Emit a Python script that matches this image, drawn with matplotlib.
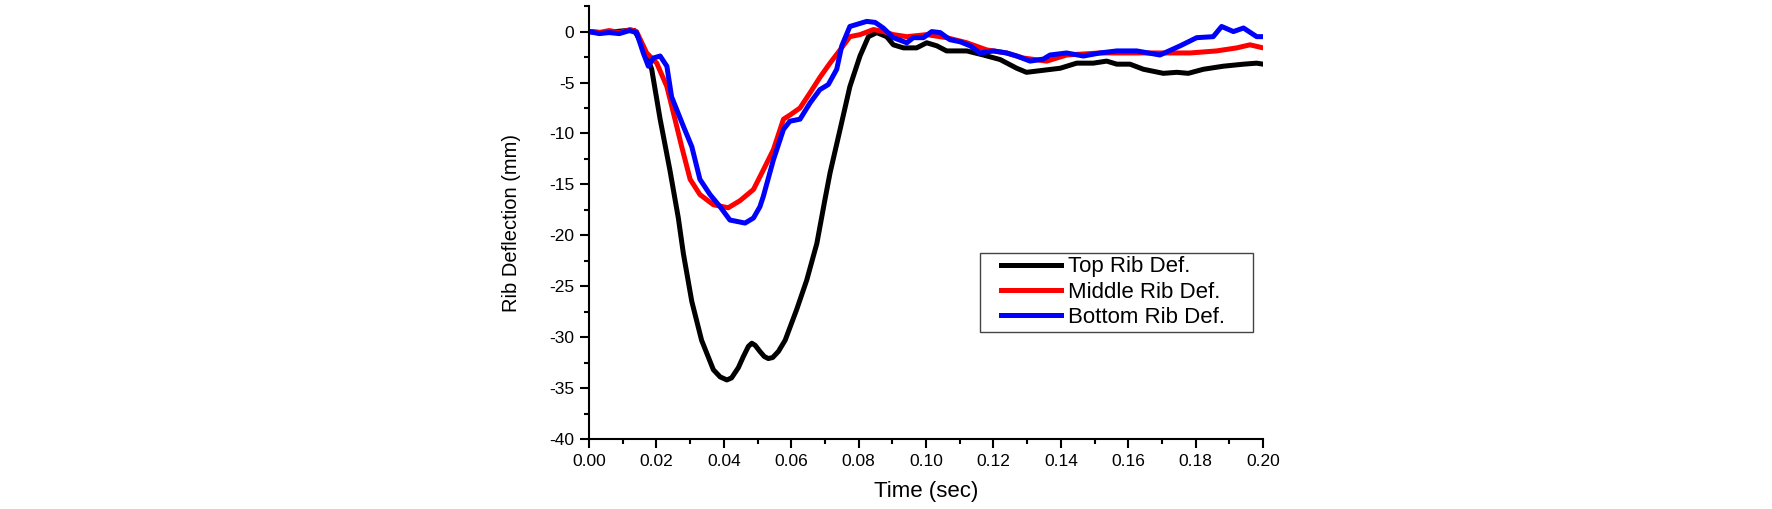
import matplotlib
matplotlib.use("Agg")
import matplotlib.pyplot as plt
from matplotlib.lines import Line2D
from matplotlib.legend_handler import HandlerLine2D
from matplotlib.ticker import MultipleLocator, FormatStrFormatter

# values (time in sec, deflection in mm)
top_t = [0.0, 0.004, 0.008, 0.011, 0.0135, 0.0161, 0.0186, 0.0211, 0.024,
         0.0265, 0.028, 0.0305, 0.0334, 0.0369, 0.0389, 0.0409, 0.0423,
         0.0443, 0.0458, 0.0473, 0.0483, 0.0493, 0.0507, 0.052, 0.0532,
         0.0545, 0.0562, 0.0582, 0.0616, 0.0646, 0.0676, 0.070, 0.0715,
         0.0745, 0.0774, 0.0804, 0.0829, 0.0854, 0.0883, 0.0903, 0.0933,
         0.0972, 0.1002, 0.1032, 0.1061, 0.1121, 0.117, 0.122, 0.1269,
         0.1298, 0.1348, 0.1398, 0.1447, 0.1496, 0.1536, 0.1566, 0.1605,
         0.1645, 0.1704, 0.1744, 0.1778, 0.1823, 0.1882, 0.1942, 0.1981,
         0.200]
top_v = [0.0, -0.1, 0.0, 0.1, 0.1, -1.5, -3.7, -8.6, -13.6,
         -18.3, -21.8, -26.5, -30.3, -33.2, -33.9, -34.2, -34.0,
         -33.0, -31.9, -30.9, -30.6, -30.8, -31.4, -31.9, -32.1,
         -32.0, -31.4, -30.3, -27.3, -24.4, -20.8, -16.5, -13.9,
         -9.6, -5.4, -2.4, -0.5, -0.1, -0.5, -1.3, -1.6,
         -1.6, -1.1, -1.4, -1.9, -1.9, -2.3, -2.75, -3.6,
         -4.0, -3.8, -3.6, -3.1, -3.1, -2.9, -3.2, -3.2,
         -3.7, -4.1, -4.0, -4.1, -3.7, -3.4, -3.2, -3.1,
         -3.2]

mid_t = [0.0, 0.003, 0.006, 0.009, 0.0122, 0.0141, 0.0171, 0.0201, 0.0231,
         0.0255, 0.0275, 0.030, 0.0329, 0.0369, 0.0413, 0.0448, 0.0488,
         0.0517, 0.0547, 0.0577, 0.0596, 0.0626, 0.0656, 0.0685, 0.0715,
         0.0745, 0.0774, 0.0804, 0.0844, 0.0873, 0.0903, 0.0943, 0.1002,
         0.1061, 0.1121, 0.118, 0.1239, 0.1289, 0.1358, 0.1417, 0.1516,
         0.1615, 0.1714, 0.1783, 0.1862, 0.1922, 0.1961, 0.200]
mid_v = [0.0, -0.1, 0.1, -0.1, 0.2, 0.0, -2.1, -3.1, -5.4,
         -8.6, -11.3, -14.5, -16.0, -17.0, -17.3, -16.6, -15.5,
         -13.6, -11.6, -8.6, -8.2, -7.5, -6.0, -4.5, -3.1,
         -1.8, -0.5, -0.3, 0.2, 0.0, -0.3, -0.5, -0.3,
         -0.6, -1.1, -1.8, -2.1, -2.6, -2.9, -2.3, -2.1,
         -2.1, -2.1, -2.1, -1.9, -1.6, -1.3, -1.6]

bot_t = [0.0, 0.003, 0.006, 0.009, 0.012, 0.0141, 0.0161, 0.0176, 0.0191,
         0.0211, 0.0231, 0.0245, 0.028, 0.0305, 0.0329, 0.0359, 0.0389,
         0.0418, 0.0463, 0.0488, 0.0507, 0.0517, 0.0547, 0.0577, 0.0596,
         0.0626, 0.0656, 0.0685, 0.071, 0.0735, 0.075, 0.0774, 0.0804,
         0.0824, 0.0849, 0.0873, 0.0903, 0.0943, 0.0962, 0.0992, 0.1017,
         0.1042, 0.1071, 0.1101, 0.1131, 0.116, 0.120, 0.1239, 0.1269,
         0.1309, 0.1348, 0.1368, 0.1417, 0.1467, 0.1516, 0.1566, 0.1625,
         0.1694, 0.1754, 0.1803, 0.1852, 0.1877, 0.1912, 0.1942, 0.1981,
         0.200]
bot_v = [0.0, -0.2, -0.1, -0.2, 0.1, -0.1, -2.1, -3.4, -2.6,
         -2.4, -3.4, -6.4, -9.3, -11.3, -14.5, -16.0, -17.2,
         -18.5, -18.8, -18.3, -17.2, -16.2, -12.6, -9.6, -8.8,
         -8.6, -7.0, -5.7, -5.2, -3.7, -1.4, 0.5, 0.8,
         1.0, 0.9, 0.35, -0.6, -1.1, -0.6, -0.6, 0.0,
         -0.1, -0.8, -1.0, -1.4, -2.1, -1.9, -2.1, -2.4,
         -2.9, -2.7, -2.3, -2.1, -2.4, -2.1, -1.9, -1.9,
         -2.3, -1.4, -0.6, -0.5, 0.5, 0.0, 0.35, -0.5,
         -0.5]

plt.rcParams['font.family'] = ['Liberation Sans', 'DejaVu Sans']
plt.rcParams['axes.unicode_minus'] = False

fig = plt.figure(figsize=(17.72, 5.09), dpi=100)
ax = fig.add_axes([0.3324, 0.1375, 0.3804, 0.8505])

ax.plot(top_t, top_v, color='black', lw=3.6, label='Top Rib Def.')
ax.plot(mid_t, mid_v, color='#ff0000', lw=3.6, label='Middle Rib Def.')
ax.plot(bot_t, bot_v, color='#0000ff', lw=3.6, label='Bottom Rib Def.')

ax.set_xlim(0, 0.20)
ax.set_ylim(-40, 2.5)
ax.xaxis.set_major_locator(MultipleLocator(0.02))
ax.xaxis.set_minor_locator(MultipleLocator(0.01))
ax.yaxis.set_major_locator(MultipleLocator(5))
ax.yaxis.set_minor_locator(MultipleLocator(2.5))
ax.xaxis.set_major_formatter(FormatStrFormatter('%.2f'))

for side in ('top', 'right'):
    ax.spines[side].set_visible(False)
for side in ('left', 'bottom'):
    ax.spines[side].set_linewidth(1.5)
ax.tick_params(which='major', direction='out', length=6.5, width=1.5,
               labelsize=12.5, pad=4)
ax.tick_params(which='minor', direction='out', length=3.5, width=1.5)

ax.set_xlabel('Time (sec)', fontsize=16, labelpad=9)
ax.set_ylabel('Rib Deflection (mm)', fontsize=14.5, labelpad=20)

# boxed legend, lines start a little in from the frame like the original
leg = ax.legend(loc='upper left', bbox_to_anchor=(0.580, 0.2448, 0.405, 0.1848),
                mode='expand', borderaxespad=0, fontsize=16, fancybox=False,
                framealpha=1, edgecolor='#444444', handlelength=3.5,
                handletextpad=0.3, labelspacing=0.2, borderpad=0.15,
                handler_map={Line2D: HandlerLine2D(xpad=0.8)})
leg.get_frame().set_linewidth(1.0)

fig.savefig('out.png', dpi=100)
